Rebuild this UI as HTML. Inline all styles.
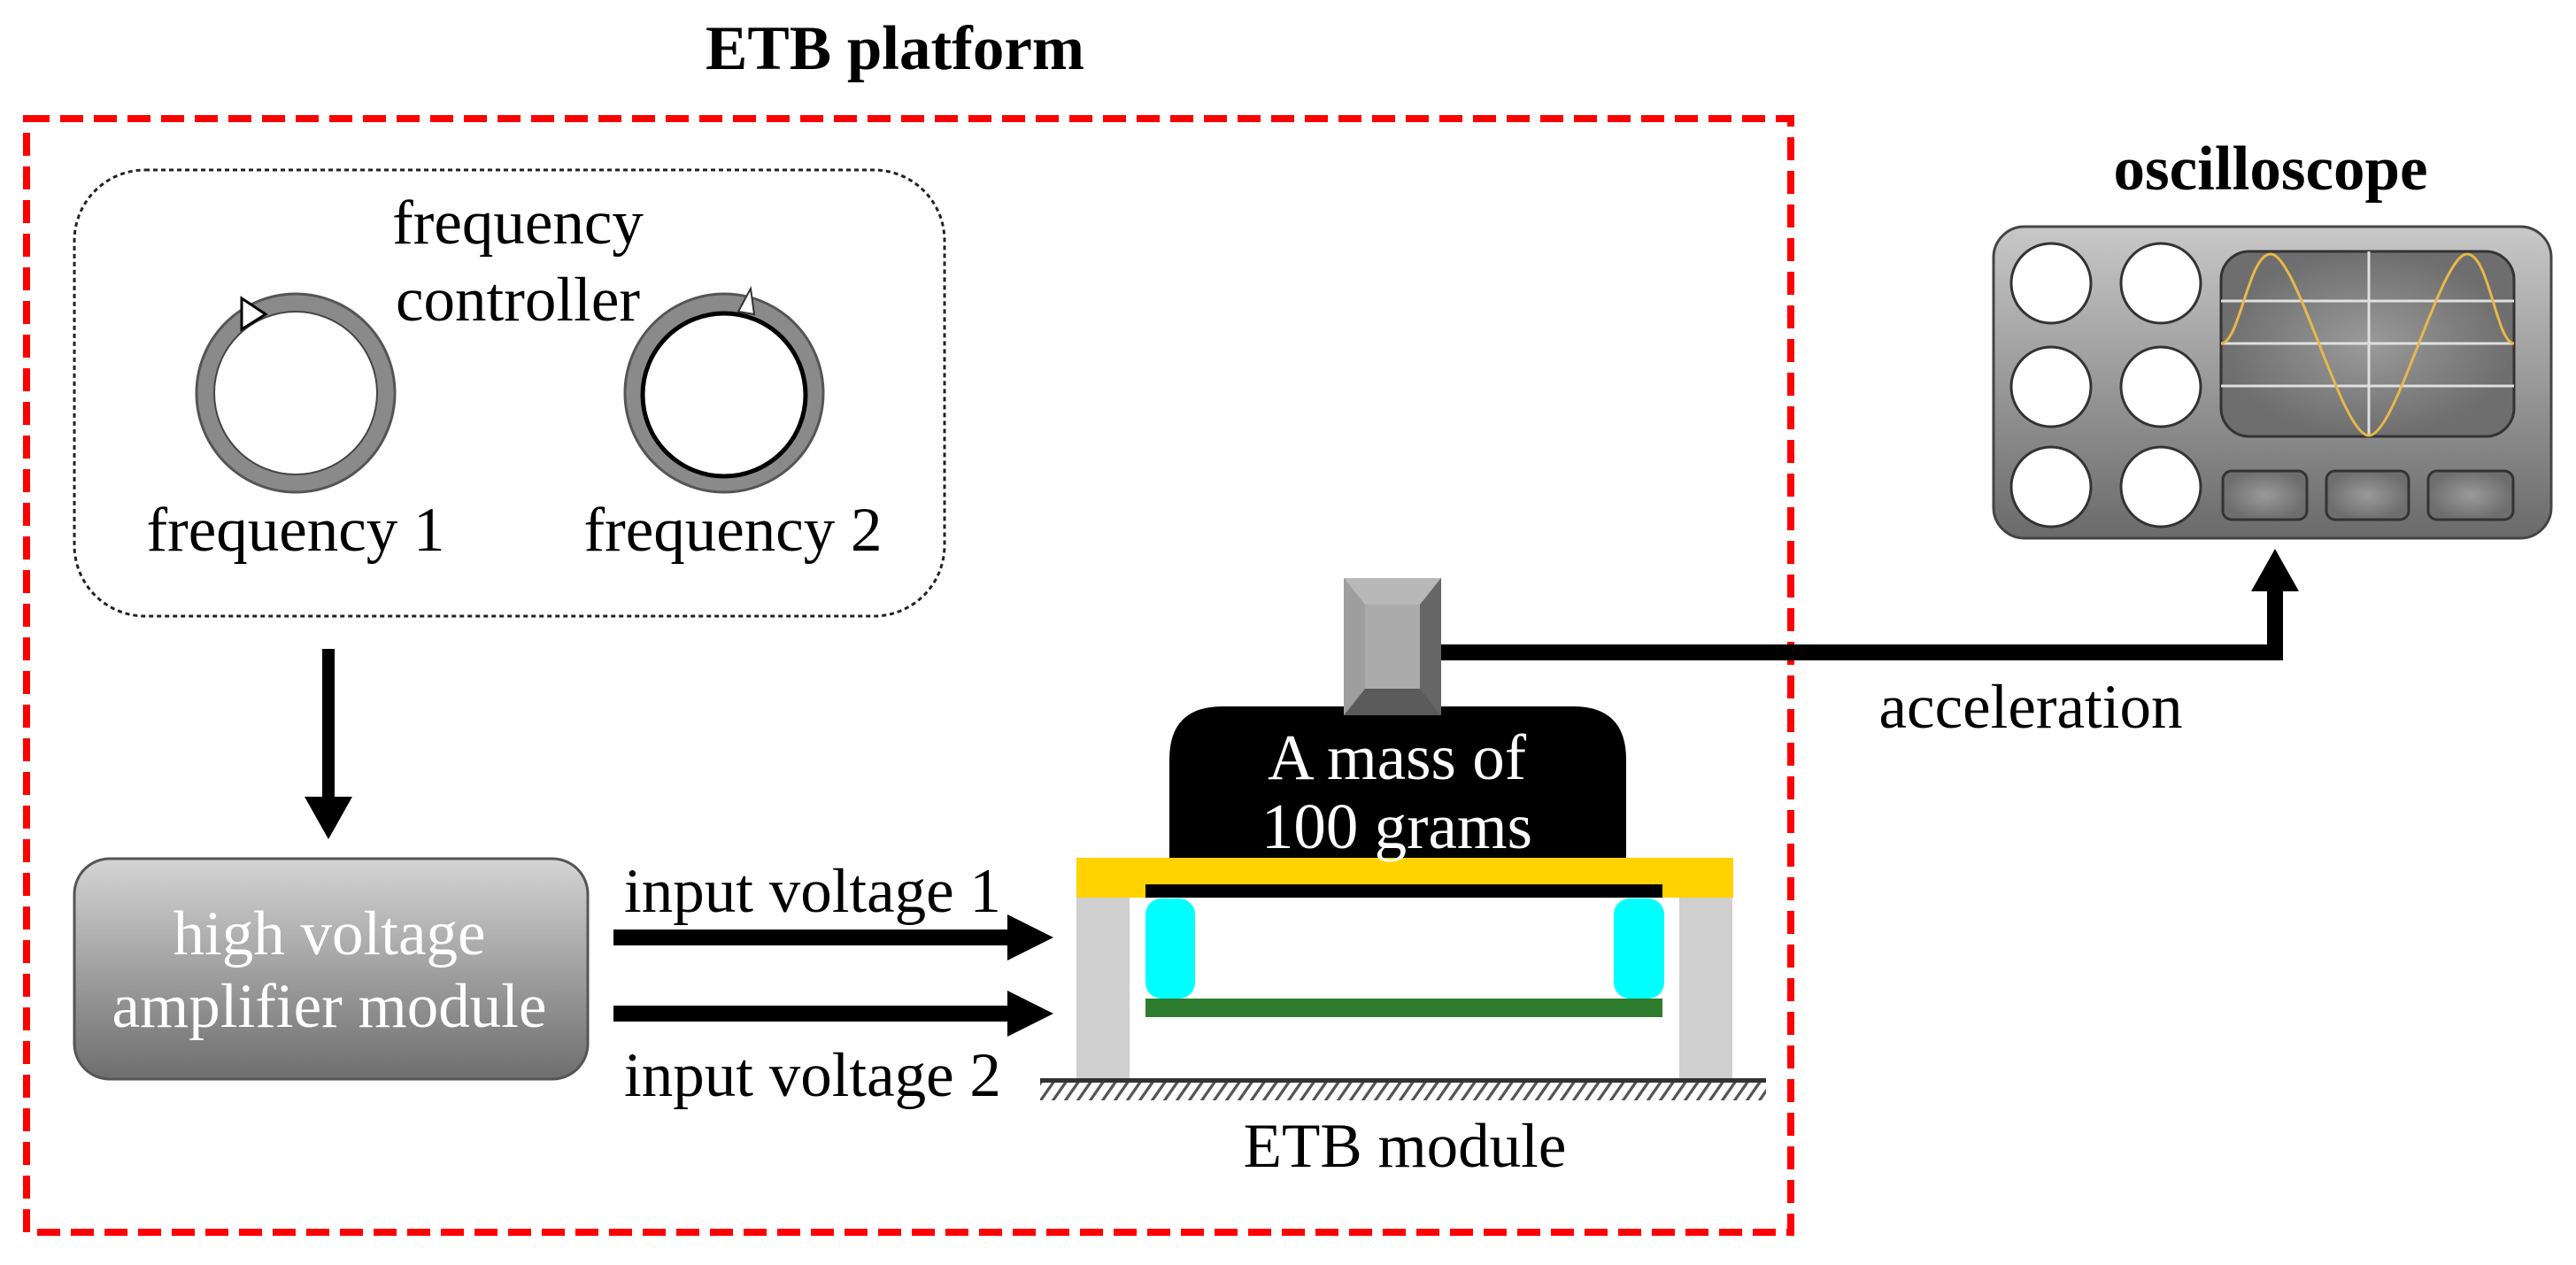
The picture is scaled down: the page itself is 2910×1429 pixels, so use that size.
<!DOCTYPE html>
<html><head><meta charset="utf-8"><style>
html,body{margin:0;padding:0;background:#fff;}
svg{display:block;}
text{font-family:"Liberation Serif",serif;}
</style></head><body>
<svg width="2910" height="1429" viewBox="0 0 2910 1429" xmlns="http://www.w3.org/2000/svg">
<defs>
<linearGradient id="hv" x1="0" y1="0" x2="0" y2="1"><stop offset="0" stop-color="#d4d4d4"/><stop offset="1" stop-color="#6e6e6e"/></linearGradient>
<linearGradient id="osc" x1="0" y1="0" x2="0" y2="1"><stop offset="0" stop-color="#c8c8c8"/><stop offset="1" stop-color="#6a6a6a"/></linearGradient>
<radialGradient id="scr"><stop offset="0" stop-color="#9a9a9a"/><stop offset="1" stop-color="#6e6e6e"/></radialGradient>
<pattern id="hatch" width="14" height="24" patternUnits="userSpaceOnUse" patternTransform="skewX(-35)"><rect x="0" y="0" width="4" height="24" fill="#555"/></pattern>
</defs>

<text x="1011" y="78" font-size="71" font-weight="bold" text-anchor="middle">ETB platform</text>
<rect x="30" y="134" width="1993" height="1258" fill="none" stroke="#ff0000" stroke-width="8" stroke-dasharray="26,12"/>

<rect x="84" y="192" width="983" height="504" rx="80" fill="none" stroke="#222" stroke-width="3" stroke-dasharray="5,4"/>
<text x="585" y="275" font-size="71" text-anchor="middle">frequency</text>
<text x="585" y="362" font-size="71" text-anchor="middle">controller</text>
<!-- knobs -->
<circle cx="334" cy="444" r="112" fill="#8a8a8a" stroke="#555" stroke-width="3"/>
<circle cx="334" cy="444" r="92" fill="#fff" stroke="#444" stroke-width="2"/>
<polygon points="273,337 300,355 273,372" fill="#fff" stroke="#000" stroke-width="3"/>
<circle cx="818" cy="444" r="112" fill="#8a8a8a" stroke="#555" stroke-width="3"/>
<circle cx="818" cy="446" r="92" fill="#fff" stroke="#000" stroke-width="5"/>
<polygon points="834,352 852,355 848,326" fill="#fff" stroke="#333" stroke-width="2"/>
<text x="334" y="622" font-size="71" text-anchor="middle">frequency 1</text>
<text x="828" y="622" font-size="71" text-anchor="middle">frequency 2</text>

<!-- down arrow -->
<rect x="364" y="733" width="14" height="170" fill="#000"/>
<polygon points="344,900 398,900 371,948" fill="#000"/>

<!-- HV amp -->
<rect x="84" y="970" width="580" height="249" rx="40" fill="url(#hv)" stroke="#555" stroke-width="3"/>
<text x="372" y="1078" font-size="71" fill="#fff" text-anchor="middle">high voltage</text>
<text x="372" y="1160" font-size="71" fill="#fff" text-anchor="middle">amplifier module</text>

<text x="705" y="1030" font-size="71">input voltage 1</text>
<rect x="693" y="1050" width="450" height="18" fill="#000"/>
<polygon points="1138,1033 1190,1059 1138,1085" fill="#000"/>
<rect x="693" y="1136" width="450" height="18" fill="#000"/>
<polygon points="1138,1119 1190,1145 1138,1171" fill="#000"/>
<text x="705" y="1238" font-size="71">input voltage 2</text>

<!-- ETB module -->
<rect x="1216" y="1013" width="60" height="206" fill="#cfcfcf"/>
<rect x="1897" y="1013" width="60" height="206" fill="#cfcfcf"/>
<rect x="1216" y="969" width="742" height="45" fill="#ffd200"/>
<rect x="1294" y="999" width="584" height="15" fill="#000"/>
<rect x="1294" y="1015" width="56" height="113" rx="18" fill="#00ffff"/>
<rect x="1823" y="1015" width="57" height="113" rx="18" fill="#00ffff"/>
<rect x="1294" y="1128" width="584" height="21" fill="#2e7d2e"/>
<rect x="1175" y="1223" width="820" height="20" fill="url(#hatch)"/>
<rect x="1175" y="1218" width="820" height="5" fill="#333"/>
<text x="1587" y="1318" font-size="71" text-anchor="middle">ETB module</text>

<!-- mass -->
<path d="M1321,969 V858 Q1321,798 1381,798 H1777 Q1837,798 1837,858 V969 Z" fill="#000"/>
<text x="1578" y="880" font-size="73" fill="#fff" text-anchor="middle">A mass of</text>
<text x="1578" y="958" font-size="73" fill="#fff" text-anchor="middle">100 grams</text>

<!-- sensor -->
<rect x="1518" y="653" width="110" height="155" fill="#8c8c8c"/>
<polygon points="1518,653 1628,653 1604,683 1542,683" fill="#b8b8b8"/>
<polygon points="1628,653 1628,808 1604,778 1604,683" fill="#666"/>
<polygon points="1518,808 1628,808 1604,778 1542,778" fill="#5a5a5a"/>
<polygon points="1518,653 1542,683 1542,778 1518,808" fill="#9e9e9e"/>
<rect x="1542" y="683" width="62" height="95" fill="#ababab"/>

<!-- acceleration line -->
<path d="M1628,737 H2570 V665" fill="none" stroke="#000" stroke-width="18"/>
<polygon points="2543,668 2597,668 2570,620" fill="#000"/>
<text x="2294" y="822" font-size="71" text-anchor="middle">acceleration</text>

<!-- oscilloscope -->
<text x="2565" y="214" font-size="71" font-weight="bold" text-anchor="middle">oscilloscope</text>
<rect x="2252" y="256" width="630" height="352" rx="35" fill="url(#osc)" stroke="#444" stroke-width="3"/>
<g fill="#fff" stroke="#333" stroke-width="3">
<ellipse cx="2317" cy="320" rx="45" ry="45"/><ellipse cx="2441" cy="320" rx="45" ry="45"/>
<ellipse cx="2317" cy="437" rx="45" ry="45"/><ellipse cx="2441" cy="437" rx="45" ry="45"/>
<ellipse cx="2317" cy="550" rx="45" ry="45"/><ellipse cx="2441" cy="550" rx="45" ry="45"/>
</g>
<rect x="2509" y="284" width="331" height="209" rx="32" fill="url(#scr)" stroke="#333" stroke-width="3"/>
<g stroke="#e0e0e0" stroke-width="3">
<line x1="2509" y1="340" x2="2840" y2="340"/><line x1="2509" y1="388" x2="2840" y2="388"/><line x1="2509" y1="436" x2="2840" y2="436"/>
<line x1="2676" y1="284" x2="2676" y2="493"/>
</g>
<path d="M2509,388 C2530,388 2540,287 2565,287 C2595,287 2645,492 2676,492 C2707,492 2757,287 2787,287 C2812,287 2820,388 2840,388" fill="none" stroke="#e8b84a" stroke-width="3"/>
<g fill="url(#scr)" stroke="#333" stroke-width="3">
<rect x="2511" y="532" width="95" height="55" rx="10"/>
<rect x="2628" y="532" width="93" height="55" rx="10"/>
<rect x="2743" y="532" width="96" height="55" rx="10"/>
</g>
</svg>
</body></html>
